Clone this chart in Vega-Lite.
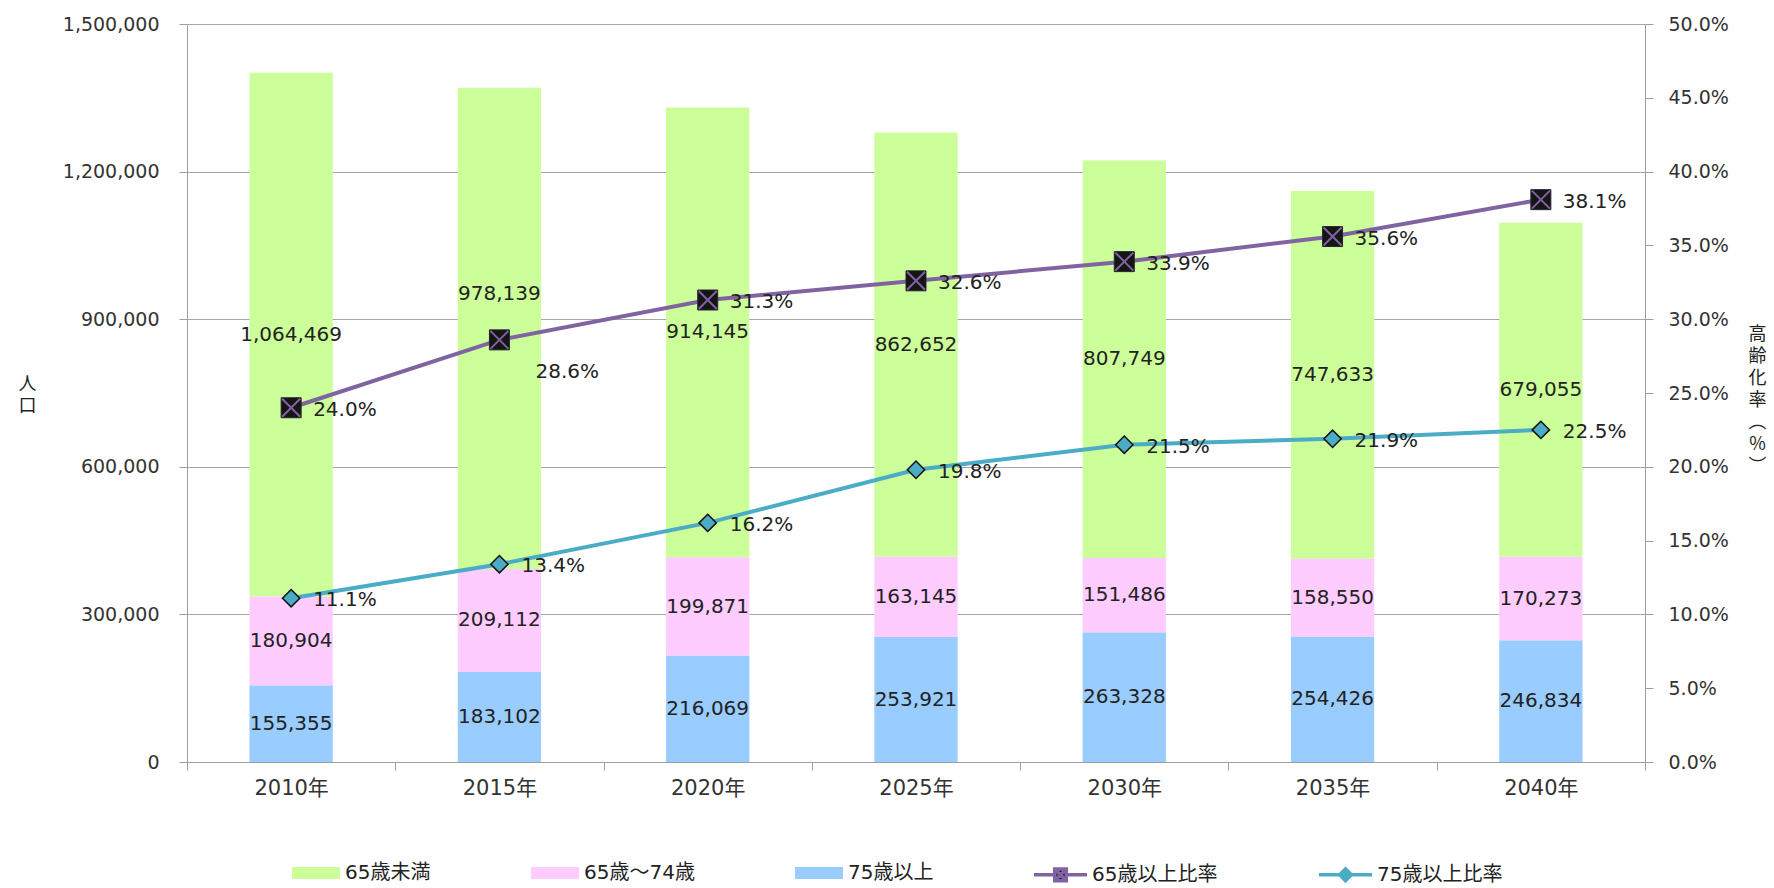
{
  "$schema": "https://vega.github.io/schema/vega-lite/v6.json",
  "width": 1458,
  "height": 738,
  "autosize": {"type": "none"},
  "padding": {"left": 187, "top": 24, "right": 129, "bottom": 126},
  "background": "white",
  "config": {
    "view": {"stroke": null},
    "font": "DejaVu Sans",
    "axis": {
      "labelFont": "DejaVu Sans, Noto Sans CJK JP",
      "labelFontSize": 19,
      "labelColor": "#333333",
      "domainColor": "#9e9e9e",
      "tickColor": "#9e9e9e",
      "gridColor": "#a6a6a6",
      "tickSize": 8,
      "titleFont": "Noto Sans CJK JP",
      "titleFontWeight": "normal",
      "titleColor": "#222222"
    },
    "legend": {
      "labelFont": "DejaVu Sans, Noto Sans CJK JP",
      "labelFontSize": 20,
      "labelColor": "#222222",
      "labelLimit": 400
    }
  },
  "datasets": {
    "pop": [
      {"year": "2010年", "group": "65歳未満", "value": 1064469},
      {"year": "2010年", "group": "65歳～74歳", "value": 180904},
      {"year": "2010年", "group": "75歳以上", "value": 155355},
      {"year": "2015年", "group": "65歳未満", "value": 978139},
      {"year": "2015年", "group": "65歳～74歳", "value": 209112},
      {"year": "2015年", "group": "75歳以上", "value": 183102},
      {"year": "2020年", "group": "65歳未満", "value": 914145},
      {"year": "2020年", "group": "65歳～74歳", "value": 199871},
      {"year": "2020年", "group": "75歳以上", "value": 216069},
      {"year": "2025年", "group": "65歳未満", "value": 862652},
      {"year": "2025年", "group": "65歳～74歳", "value": 163145},
      {"year": "2025年", "group": "75歳以上", "value": 253921},
      {"year": "2030年", "group": "65歳未満", "value": 807749},
      {"year": "2030年", "group": "65歳～74歳", "value": 151486},
      {"year": "2030年", "group": "75歳以上", "value": 263328},
      {"year": "2035年", "group": "65歳未満", "value": 747633},
      {"year": "2035年", "group": "65歳～74歳", "value": 158550},
      {"year": "2035年", "group": "75歳以上", "value": 254426},
      {"year": "2040年", "group": "65歳未満", "value": 679055},
      {"year": "2040年", "group": "65歳～74歳", "value": 170273},
      {"year": "2040年", "group": "75歳以上", "value": 246834}
    ],
    "ratio": [
      {"year": "2010年", "series": "65歳以上比率", "rate": 0.240},
      {"year": "2015年", "series": "65歳以上比率", "rate": 0.286},
      {"year": "2020年", "series": "65歳以上比率", "rate": 0.313},
      {"year": "2025年", "series": "65歳以上比率", "rate": 0.326},
      {"year": "2030年", "series": "65歳以上比率", "rate": 0.339},
      {"year": "2035年", "series": "65歳以上比率", "rate": 0.356},
      {"year": "2040年", "series": "65歳以上比率", "rate": 0.381},
      {"year": "2010年", "series": "75歳以上比率", "rate": 0.111},
      {"year": "2015年", "series": "75歳以上比率", "rate": 0.134},
      {"year": "2020年", "series": "75歳以上比率", "rate": 0.162},
      {"year": "2025年", "series": "75歳以上比率", "rate": 0.198},
      {"year": "2030年", "series": "75歳以上比率", "rate": 0.215},
      {"year": "2035年", "series": "75歳以上比率", "rate": 0.219},
      {"year": "2040年", "series": "75歳以上比率", "rate": 0.225}
    ]
  },
  "layer": [
    {
      "data": {"name": "pop"},
      "transform": [
        {"calculate": "indexof(['75歳以上','65歳～74歳','65歳未満'], datum.group)", "as": "ord"},
        {"stack": "value", "groupby": ["year"], "sort": [{"field": "ord", "order": "ascending"}], "as": ["v0", "v1"]},
        {"calculate": "(datum.v0 + datum.v1) / 2", "as": "mid"}
      ],
      "layer": [
        {
          "mark": {"type": "bar", "width": {"band": 0.4}},
          "encoding": {
            "x": {
              "field": "year", "type": "nominal",
              "scale": {"paddingInner": 0, "paddingOuter": 0},
              "axis": {"title": null, "labelAngle": 0, "tickBand": "extent", "labelPadding": 7, "labelFontSize": 21}
            },
            "y": {
              "field": "v1", "type": "quantitative",
              "scale": {"domain": [0, 1500000], "nice": false},
              "axis": {
                "orient": "left",
                "values": [0, 300000, 600000, 900000, 1200000, 1500000],
                "format": ",d",
                "grid": true,
                "labelPadding": 20,
                "title": ["人", "口"],
                "titleAngle": 0,
                "titleX": -160,
                "titleY": 360,
                "titleAlign": "center",
                "titleBaseline": "middle",
                "titleFontSize": 18,
                "titleLineHeight": 22
              }
            },
            "y2": {"field": "v0"},
            "fill": {
              "field": "group", "type": "nominal",
              "scale": {"domain": ["65歳未満", "65歳～74歳", "75歳以上"], "range": ["#ccff99", "#ffccff", "#99ccff"]},
              "legend": {
                "orient": "none",
                "legendX": 105,
                "legendY": 825,
                "direction": "horizontal",
                "columns": 3,
                "title": null,
                "symbolType": "M-1,-0.25L1,-0.25L1,0.25L-1,0.25Z",
                "symbolSize": 2304,
                "symbolStrokeWidth": 0,
                "labelOffset": 5,
                "columnPadding": 100
              }
            }
          }
        },
        {
          "transform": [{"filter": "!(datum.year === '2015年' && datum.group === '65歳未満')"}],
          "mark": {"type": "text", "fontSize": 20, "color": "#222222", "font": "DejaVu Sans", "baseline": "middle", "align": "center"},
          "encoding": {
            "x": {"field": "year", "type": "nominal"},
            "y": {"field": "mid", "type": "quantitative"},
            "text": {"field": "value", "type": "quantitative", "format": ",d"}
          }
        },
        {
          "transform": [{"filter": "datum.year === '2015年' && datum.group === '65歳未満'"}],
          "mark": {"type": "text", "fontSize": 20, "color": "#222222", "font": "DejaVu Sans", "baseline": "middle", "align": "center", "dy": -34},
          "encoding": {
            "x": {"field": "year", "type": "nominal"},
            "y": {"field": "mid", "type": "quantitative"},
            "text": {"field": "value", "type": "quantitative", "format": ",d"}
          }
        }
      ]
    },
    {
      "data": {"name": "ratio"},
      "layer": [
        {
          "mark": {"type": "line", "strokeWidth": 4},
          "encoding": {
            "x": {"field": "year", "type": "nominal"},
            "y": {
              "field": "rate", "type": "quantitative",
              "scale": {"domain": [0, 0.5], "nice": false},
              "axis": {
                "orient": "right",
                "values": [0, 0.05, 0.1, 0.15, 0.2, 0.25, 0.3, 0.35, 0.4, 0.45, 0.5],
                "format": ".1%",
                "grid": false,
                "labelPadding": 15,
                "title": ["高", "齢", "化", "率", "︵", "%", "︶"],
                "titleAngle": 0,
                "titleX": 112,
                "titleY": 310,
                "titleAlign": "center",
                "titleBaseline": "middle",
                "titleFontSize": 18,
                "titleLineHeight": 22
              }
            },
            "stroke": {
              "field": "series", "type": "nominal",
              "scale": {"domain": ["65歳以上比率", "75歳以上比率"], "range": ["#8064a2", "#4bacc6"]},
              "legend": {
                "orient": "none",
                "legendX": 845,
                "legendY": 822,
                "direction": "horizontal",
                "columns": 2,
                "title": null,
                "symbolSize": 2809,
                "symbolStrokeWidth": 3.5,
                "labelOffset": 3,
                "columnPadding": 94,
                "encode": {
                  "symbols": {
                    "update": {
                      "shape": {"signal": "datum.value === '65歳以上比率' ? 'M-1,0L-0.22,0M0.22,0L1,0M-0.22,-0.22L0.22,-0.22L0.22,0.22L-0.22,0.22ZM-0.22,-0.22L0.22,0.22M0.22,-0.22L-0.22,0.22' : 'M-1,0L-0.22,0M0.22,0L1,0M-0.22,0L0,-0.22L0.22,0L0,0.22Z'"},
                      "fill": {"signal": "datum.value === '65歳以上比率' ? '#151515' : '#4bacc6'"}
                    }
                  }
                }
              }
            }
          }
        },
        {
          "transform": [{"filter": "datum.series === '65歳以上比率'"}],
          "mark": {"type": "point", "shape": "square", "filled": true, "size": 400, "fill": "#151515", "stroke": "#2a2238", "strokeWidth": 1, "opacity": 1},
          "encoding": {
            "x": {"field": "year", "type": "nominal"},
            "y": {"field": "rate", "type": "quantitative"}
          }
        },
        {
          "transform": [{"filter": "datum.series === '65歳以上比率'"}],
          "mark": {"type": "point", "shape": "M-0.9,-0.9L0.9,0.9M0.9,-0.9L-0.9,0.9", "filled": false, "size": 400, "stroke": "#8064a2", "strokeWidth": 2, "opacity": 1},
          "encoding": {
            "x": {"field": "year", "type": "nominal"},
            "y": {"field": "rate", "type": "quantitative"}
          }
        },
        {
          "transform": [{"filter": "datum.series === '75歳以上比率'"}],
          "mark": {"type": "point", "shape": "diamond", "filled": true, "size": 300, "fill": "#4bacc6", "stroke": "#111111", "strokeWidth": 1.5, "opacity": 1},
          "encoding": {
            "x": {"field": "year", "type": "nominal"},
            "y": {"field": "rate", "type": "quantitative"}
          }
        },
        {
          "transform": [{"filter": "!(datum.year === '2015年' && datum.series === '65歳以上比率')"}],
          "mark": {"type": "text", "fontSize": 20, "color": "#222222", "font": "DejaVu Sans", "align": "left", "baseline": "middle", "dx": 22, "dy": 2},
          "encoding": {
            "x": {"field": "year", "type": "nominal"},
            "y": {"field": "rate", "type": "quantitative"},
            "text": {"field": "rate", "type": "quantitative", "format": ".1%"}
          }
        },
        {
          "transform": [{"filter": "datum.year === '2015年' && datum.series === '65歳以上比率'"}],
          "mark": {"type": "text", "fontSize": 20, "color": "#222222", "font": "DejaVu Sans", "align": "left", "baseline": "middle", "dx": 36, "dy": 32},
          "encoding": {
            "x": {"field": "year", "type": "nominal"},
            "y": {"field": "rate", "type": "quantitative"},
            "text": {"field": "rate", "type": "quantitative", "format": ".1%"}
          }
        }
      ]
    }
  ],
  "resolve": {"scale": {"y": "independent"}}
}
